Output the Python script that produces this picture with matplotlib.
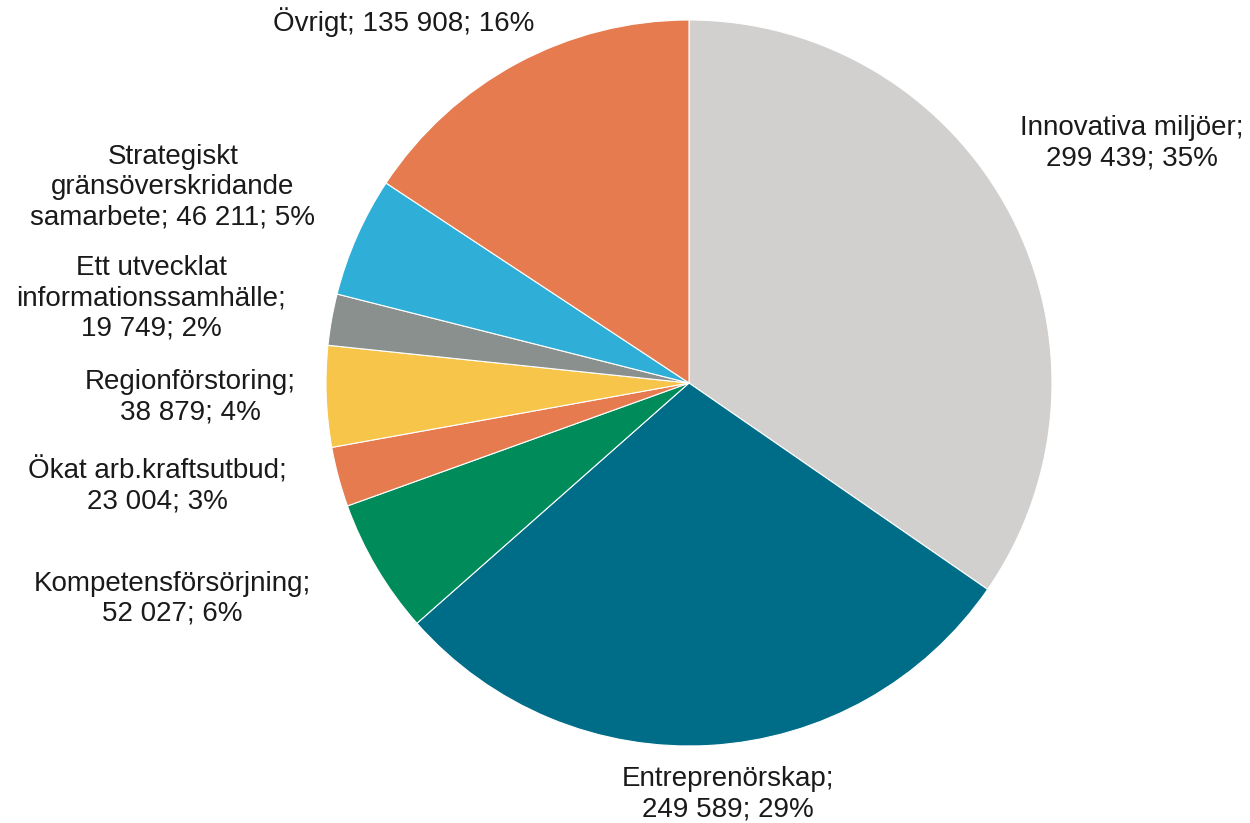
import matplotlib.pyplot as plt
import numpy as np

plt.rcParams['font.family'] = ['Liberation Sans', 'DejaVu Sans']

names = ["Innovativa miljöer", "Entreprenörskap", "Kompetensförsörjning",
         "Ökat arb.kraftsutbud", "Regionförstoring",
         "Ett utvecklat\ninformationssamhälle", "Strategiskt\ngränsöverskridande\nsamarbete",
         "Övrigt"]
values = [299439, 249589, 52027, 23004, 38879, 19749, 46211, 135908]
colors = ["#D1D0CE", "#006D88", "#008B5B", "#E57B4F", "#F6C549",
          "#8A908D", "#2FAFD7", "#E57B4F"]

# label text layout (how each label is broken into lines) and where it sits
label_fmt = ["{n};\n{v}; {p}%", "{n};\n{v}; {p}%", "{n};\n{v}; {p}%",
             "{n};\n{v}; {p}%", "{n};\n{v}; {p}%", "{n};\n{v}; {p}%",
             "{n}; {v}; {p}%", "{n}; {v}; {p}%"]
label_pos = [(1132, 143), (728, 794), (172, 599), (157, 486),
             (190, 397), (151, 298), (173, 187), (404, 22)]

W, H = 1250, 823
fig = plt.figure(figsize=(12.5, 8.23), dpi=100)
ax = fig.add_axes([0, 0, 1, 1])

ax.pie(values, colors=colors, startangle=90, counterclock=False,
       center=(689, H - 383), radius=363, frame=True,
       wedgeprops=dict(edgecolor="white", linewidth=0.8))
ax.set_xlim(0, W)
ax.set_ylim(0, H)
ax.set_aspect('equal')
ax.axis('off')

total = sum(values)
for n, v, f, (x, y) in zip(names, values, label_fmt, label_pos):
    vs = "{:,}".format(v).replace(",", " ")
    p = int(round(100 * v / total))
    ax.text(x, H - y, f.format(n=n, v=vs, p=p), ha="center", va="center",
            fontsize=20, color="#1a1a1a", linespacing=1.2)

plt.savefig("out.png", dpi=100)
